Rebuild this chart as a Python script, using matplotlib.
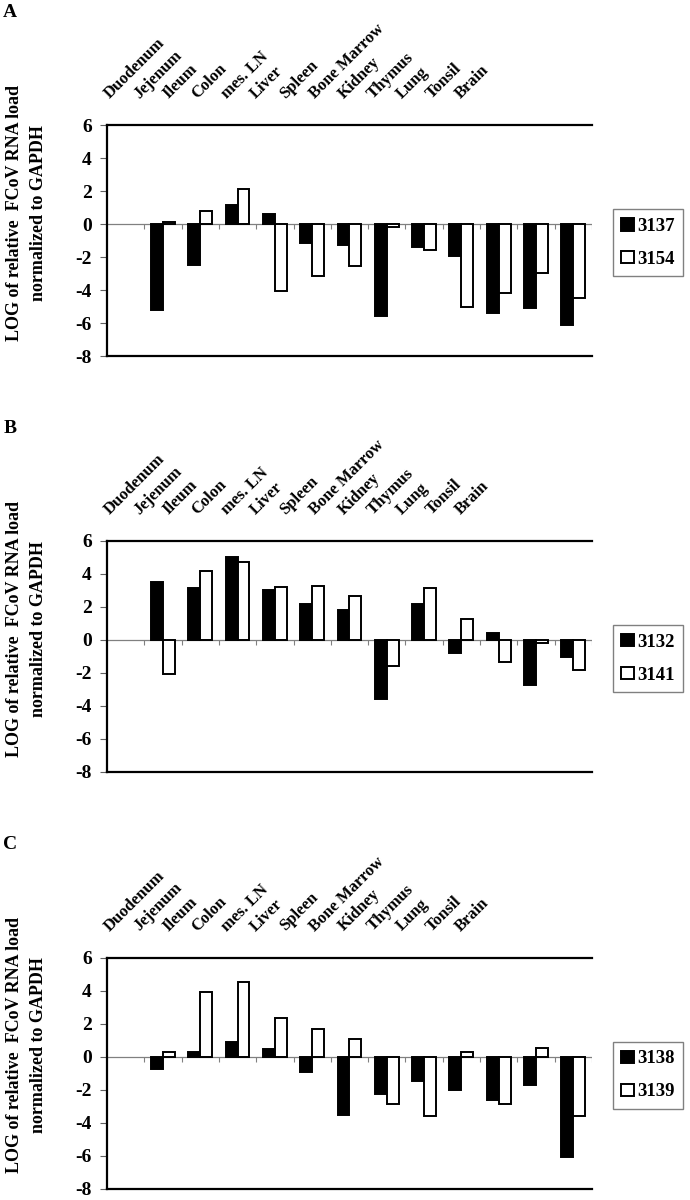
import numpy as np
import matplotlib
matplotlib.use('Agg')
from matplotlib import pyplot as plt

plt.rcParams['font.family'] = ['Liberation Serif', 'DejaVu Serif']
plt.rcParams['font.weight'] = 'bold'
plt.rcParams['axes.unicode_minus'] = False

organs = ['Duodenum', 'Jejenum', 'Ileum', 'Colon', 'mes. LN', 'Liver', 'Spleen',
          'Bone Marrow', 'Kidney', 'Thymus', 'Lung', 'Tonsil', 'Brain']

panel_letters = ['A', 'B', 'C']
cats_black = ['3137', '3132', '3138']
cats_white = ['3154', '3141', '3139']

# the first slot of the category axis is empty in the original figure
a_3137 = [np.nan, -5.2, -2.5, 1.15, 0.6, -1.15, -1.3, -5.55, -1.4, -1.95, -5.4, -5.1, -6.1]
a_3154 = [np.nan, 0.15, 0.8, 2.15, -4.05, -3.15, -2.55, -0.2, -1.55, -5.0, -4.2, -2.95, -4.5]
b_3132 = [np.nan, 3.5, 3.15, 5.05, 3.05, 2.15, 1.8, -3.55, 2.2, -0.8, 0.45, -2.75, -1.05]
b_3141 = [np.nan, -2.05, 4.15, 4.7, 3.2, 3.3, 2.65, -1.6, 3.15, 1.25, -1.35, -0.2, -1.8]
c_3138 = [np.nan, -0.75, 0.25, 0.9, 0.45, -0.95, -3.55, -2.25, -1.5, -2.05, -2.6, -1.75, -6.1]
c_3139 = [np.nan, 0.25, 3.9, 4.55, 2.35, 1.7, 1.05, -2.85, -3.6, 0.3, -2.85, 0.55, -3.6]

black_vals = [a_3137, b_3132, c_3138]
white_vals = [a_3154, b_3141, c_3139]

yticks = [-8, -6, -4, -2, 0, 2, 4, 6]
ylabel = 'LOG of relative  FCoV RNA load\nnormalized to GAPDH'

fig = plt.figure(figsize=(6.9, 12), dpi=100)
bottoms = [0.7033, 0.3567, 0.0095]
bw = 0.32

for k in range(3):
    ax = fig.add_axes([0.155, bottoms[k], 0.703, 0.1925])
    x = np.arange(len(organs)) + 0.5

    # zero line with small ticks at category boundaries
    ax.axhline(0, color='#808080', lw=0.9, zorder=1)
    ax.vlines(np.arange(1, len(organs) + 1), -0.33, 0, color='#808080', lw=0.8, zorder=1)

    ax.bar(x - bw / 2, black_vals[k], bw, color='black', edgecolor='black',
           lw=1.4, label=cats_black[k], zorder=2)
    ax.bar(x + bw / 2, white_vals[k], bw, color='white', edgecolor='black',
           lw=1.4, label=cats_white[k], zorder=2)

    ax.set_xlim(0, len(organs))
    ax.set_ylim(-8, 6)
    ax.set_xticks([])
    ax.set_yticks(yticks)
    ax.tick_params(axis='y', direction='out', length=5, width=0.8, color='#606060',
                   labelsize=14, pad=6)
    for lab in ax.get_yticklabels():
        lab.set_fontweight('bold')

    for side in ['left', 'top', 'bottom']:
        ax.spines[side].set_linewidth(1.6)
    ax.spines['right'].set_visible(False)

    # category names written above the plot
    lx = np.linspace(0.012, 0.735, len(organs))
    for i, name in enumerate(organs):
        ax.text(lx[i], 1.10, name, transform=ax.transAxes, rotation=45,
                rotation_mode='anchor', ha='left', va='bottom',
                fontsize=12, fontweight='bold')

    ax.text(-0.214, 1.468, panel_letters[k], transform=ax.transAxes,
            fontsize=14, fontweight='bold', va='baseline', ha='left')

    ax.text(-0.166, 0.62, ylabel, transform=ax.transAxes, rotation=90,
            ha='center', va='center', multialignment='center',
            fontsize=13, fontweight='bold', linespacing=1.6)

    leg = ax.legend(loc='center left', bbox_to_anchor=(1.043, 0.49), frameon=True,
                    fancybox=False, edgecolor='#808080', framealpha=1,
                    handlelength=0.65, handleheight=0.65, handletextpad=0.2,
                    borderpad=0.45, labelspacing=0.85, borderaxespad=0,
                    prop=dict(weight='bold', size=13.5))
    leg.get_frame().set_linewidth(1.0)

fig.savefig('out.png', dpi=100)
